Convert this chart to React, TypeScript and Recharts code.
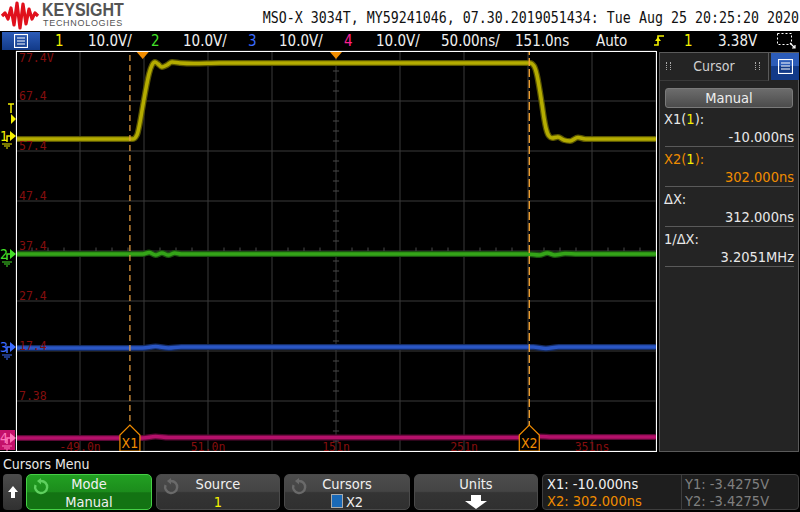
import React from "react";
import {
  CartesianGrid,
  Line,
  LineChart,
  ReferenceDot,
  ReferenceLine,
  XAxis,
  YAxis,
} from "recharts";

const NARROW = "'Liberation Sans Narrow', 'DejaVu Sans Condensed', 'Arial Narrow', Roboto, sans-serif";
const MONO = "'DejaVu Sans Mono', 'Liberation Mono', monospace";

// horizontal: 50 ns/div, 151 ns at screen centre
const TIME_TICKS = [-99, -49, 1, 51, 101, 151, 201, 251, 301, 351, 401];
const TIME_LABELS = ["", "-49.0n", "", "51.0n", "", "151n", "", "251n", "", "351ns", ""];
// vertical: 10 V/div (channel 1 scale)
const VOLT_TICKS = [77.4, 67.4, 57.4, 47.4, 37.4, 27.4, 17.4, 7.4, -2.6];
const VOLT_LABELS = ["77.4V", "67.4", "57.4", "47.4", "37.4", "27.4", "17.4", "7.38", ""];

// channel 1: pulse
const CH1_T = [-99, -7.6, -4.5, -2.1, 0.2, 2.6, 4.9, 7.3, 9.6, 12, 15, 19, 22.9, 29, 40, 60, 100, 200, 300, 302.6, 305.7, 308, 310.4, 312, 313.5, 315, 317.4, 319.8, 324.4, 329, 333.8, 340, 346, 360, 401];
const CH1_V = [59.8, 59.8, 60.6, 63.2, 66.6, 70.0, 72.8, 74.6, 75.2, 74.8, 74.2, 74.6, 75.2, 75.0, 74.9, 75.0, 75.0, 75.0, 75.0, 75.0, 74.4, 72.6, 69.2, 66.6, 64.0, 62.0, 60.4, 60.0, 60.2, 59.6, 59.4, 60.1, 59.8, 59.8, 59.8];
// channel 2
const CH2_T = [-99, 0, 5, 10, 15, 20, 25, 30, 40, 300, 310, 316, 322, 330, 340, 401];
const CH2_V = [36.8, 36.8, 37.1, 36.6, 37.0, 36.6, 37.0, 36.8, 36.8, 36.8, 36.6, 37.0, 36.6, 36.9, 36.8, 36.8];
// channel 3
const CH3_T = [-99, 0, 10, 20, 30, 305, 315, 325, 401];
const CH3_V = [18.0, 18.0, 18.3, 18.0, 18.2, 18.2, 17.9, 18.2, 18.2];
// channel 4
const CH4_T = [-99, 0, 10, 20, 300, 310, 320, 401];
const CH4_V = [0.0, 0.0, 0.3, 0.1, 0.1, 0.3, 0.2, 0.2];

const CH_COLORS = ["#b4ac00", "#34a418", "#2a56c4", "#b4106a"];
const CH_HALO = ["#5a5600", "#1a5410", "#152c64", "#5a0835"];
const MARK_COLORS = ["#f4f000", "#44e028", "#3c6cff", "#ff2090"];
const GROUND_LEVELS = [60.4, 36.8, 18.2, 0.0];
const TRIG_LEVEL = 63.8;
const TRIG_TIME = 0;
const CENTER_TIME = 151;
const X1_TIME = -10;
const X2_TIME = 302;

const toPoints = (t: number[], v: number[]) => t.map((x, i) => ({ t: x, v: v[i] }));
const CHANNELS = [toPoints(CH1_T, CH1_V), toPoints(CH2_T, CH2_V), toPoints(CH3_T, CH3_V), toPoints(CH4_T, CH4_V)];

// graticule minor ticks on the centre axes
const V_MINOR = Array.from({ length: 41 }, (_, k) => 77.4 - k * 2).filter((_, k) => k % 5 !== 0);
const T_MINOR = Array.from({ length: 41 }, (_, k) => -99 + k * 12.5).filter((_, k) => k % 4 !== 0);

const LABEL_RED = "#840e0e";

function TimeTick(props: any) {
  const { x, y, payload } = props;
  const label = TIME_LABELS[TIME_TICKS.indexOf(payload.value)];
  return (
    <text x={x} y={y} textAnchor="middle" fill={LABEL_RED} fontFamily={MONO} fontSize={11.5}>
      {label}
    </text>
  );
}

function VoltTick(props: any) {
  const { x, y, payload } = props;
  const i = VOLT_TICKS.indexOf(payload.value);
  return (
    <text x={x + 3} y={i === 0 ? y + 11 : y - 1} textAnchor="start" fill={LABEL_RED} fontFamily={MONO} fontSize={11.5}>
      {VOLT_LABELS[i]}
    </text>
  );
}

function CursorTag({ viewBox, text }: any) {
  const { x, y, height } = viewBox;
  const b = y + height;
  return (
    <g>
      <polygon
        points={`${x - 10},${b} ${x - 10},${b - 16} ${x},${b - 26} ${x + 10},${b - 16} ${x + 10},${b}`}
        fill="#000"
        stroke="#f08c00"
        strokeWidth={1.2}
      />
      <text x={x} y={b - 3} textAnchor="middle" fill="#f08c00" fontFamily={NARROW} fontSize={14}>
        {text}
      </text>
    </g>
  );
}

function TrigArrow({ cx, cy }: any) {
  return <polygon points={`${cx - 6},${cy + 1} ${cx + 6},${cy + 1} ${cx},${cy + 8}`} fill="#f08c00" />;
}

function TrigLevelMark({ cx, cy }: any) {
  const c = MARK_COLORS[0];
  return (
    <g>
      <path d={`M${cx - 8},${cy - 15} H${cx - 2} M${cx - 5},${cy - 15} V${cy - 6}`} stroke={c} strokeWidth={1.5} fill="none" />
      <polygon points={`${cx - 5},${cy - 5} ${cx},${cy} ${cx - 5},${cy + 5}`} fill={c} />
    </g>
  );
}

function GroundMark({ cx, cy, ch }: any) {
  const c = MARK_COLORS[ch];
  const boxed = ch === 3;
  const g = boxed ? "#ff78bc" : c;
  return (
    <g>
      {boxed && <rect x={cx - 16} y={cy - 8} width={15} height={20} fill="#c4106a" />}
      <text x={cx - 16} y={cy + 5} fill={g} fontFamily={NARROW} fontSize={14}>
        {ch + 1}
      </text>
      <path d={`M${cx - 9},${cy + 6} V${cy} H${cx - 5}`} stroke={g} strokeWidth={1.5} fill="none" />
      <polygon points={`${cx - 6},${cy - 5} ${cx},${cy} ${cx - 6},${cy + 5}`} fill={g} />
      <path
        d={`M${cx - 14},${cy + 8} H${cx - 4} M${cx - 12},${cy + 10} H${cx - 6} M${cx - 10},${cy + 12} H${cx - 8}`}
        stroke={g}
        strokeWidth={1}
      />
    </g>
  );
}

function Scope() {
  return (
    <LineChart width={800} height={512} margin={{ top: 51, right: 144, bottom: 61, left: 16 }}>
      <CartesianGrid stroke="#3a3a3a" />
      <XAxis
        dataKey="t"
        type="number"
        domain={[-99, 401]}
        ticks={TIME_TICKS}
        interval={0}
        allowDataOverflow
        mirror
        height={20}
        tickSize={0}
        tickMargin={0}
        axisLine={false}
        tickLine={false}
        tick={(p: any) => <TimeTick {...p} />}
      />
      <YAxis
        type="number"
        domain={[-2.6, 77.4]}
        ticks={VOLT_TICKS}
        interval={0}
        allowDataOverflow
        mirror
        width={40}
        tickSize={0}
        tickMargin={0}
        axisLine={false}
        tickLine={false}
        tick={(p: any) => <VoltTick {...p} />}
      />
      {V_MINOR.map((v) => (
        <ReferenceLine key={`v${v}`} segment={[{ x: CENTER_TIME - 2.4, y: v }, { x: CENTER_TIME + 2.4, y: v }]} stroke="#4a4a4a" />
      ))}
      {T_MINOR.map((t) => (
        <ReferenceLine key={`t${t}`} segment={[{ x: t, y: 37.1 }, { x: t, y: 38.1 }]} stroke="#4a4a4a" />
      ))}
      {CHANNELS.map((d, i) => (
        <Line
          key={`h${i}`}
          data={d}
          dataKey="v"
          type="monotone"
          stroke={CH_HALO[i]}
          strokeWidth={6}
          dot={false}
          isAnimationActive={false}
        />
      ))}
      {CHANNELS.map((d, i) => (
        <Line
          key={`c${i}`}
          data={d}
          dataKey="v"
          type="monotone"
          stroke={CH_COLORS[i]}
          strokeWidth={3.5}
          dot={false}
          isAnimationActive={false}
        />
      ))}
      <ReferenceLine x={X1_TIME} stroke="#eaa040" strokeDasharray="6 4" strokeWidth={1.2} label={<CursorTag text="X1" />} />
      <ReferenceLine x={X2_TIME} stroke="#f0a030" strokeDasharray="8 3" strokeWidth={1.4} label={<CursorTag text="X2" />} />
      <ReferenceDot x={TRIG_TIME} y={77.4} ifOverflow="visible" shape={<TrigArrow />} />
      <ReferenceDot x={CENTER_TIME} y={77.4} ifOverflow="visible" shape={<TrigArrow />} />
      <ReferenceDot x={-99} y={TRIG_LEVEL} ifOverflow="visible" shape={<TrigLevelMark />} />
      {GROUND_LEVELS.map((v, i) => (
        <ReferenceDot key={`g${i}`} x={-99} y={v} ifOverflow="visible" shape={<GroundMark ch={i} />} />
      ))}
    </LineChart>
  );
}

const abs = (left: number, top: number, extra: React.CSSProperties = {}): React.CSSProperties => ({
  position: "absolute",
  left,
  top,
  ...extra,
});

function Header() {
  return (
    <div style={abs(0, 0, { width: 800, height: 31, background: "#fff" })}>
      <svg width={40} height={31} style={abs(0, 0)}>
        <polyline
          points="2,16 5,13 8,19 11,8 14,25 17,3 20,28 23,4 26,24 29,9 32,19 35,13 38,16"
          fill="none"
          stroke="#e0101c"
          strokeWidth={3.2}
          strokeLinejoin="round"
        />
      </svg>
      <div
        style={abs(42, 0, {
          fontFamily: "'Liberation Sans', Arial, sans-serif",
          fontWeight: 700,
          fontSize: 16,
          color: "#545454",
          lineHeight: "18px",
          transform: "scaleY(1.15)",
          transformOrigin: "top",
        })}
      >
        KEYSIGHT
      </div>
      <div style={abs(43, 18, { fontFamily: "'Liberation Sans', Arial, sans-serif", fontSize: 9, color: "#545454", letterSpacing: 0.7, lineHeight: "11px" })}>
        TECHNOLOGIES
      </div>
      <div
        style={abs(0, 12, {
          width: 799,
          textAlign: "right",
          fontFamily: MONO,
          fontSize: 13.3,
          color: "#111",
          lineHeight: "16px",
          transform: "scaleY(1.2)",
          transformOrigin: "bottom",
          whiteSpace: "pre",
        })}
      >
        MSO-X 3034T, MY59241046, 07.30.2019051434: Tue Aug 25 20:25:20 2020
      </div>
    </div>
  );
}

const STATUS_ITEMS: [number, string, string][] = [
  [55, "1", "#f4f000"],
  [88, "10.0V/", "#f0f0f0"],
  [151, "2", "#44e028"],
  [183, "10.0V/", "#f0f0f0"],
  [248, "3", "#3c6cff"],
  [279, "10.0V/", "#f0f0f0"],
  [344, "4", "#ff2090"],
  [376, "10.0V/", "#f0f0f0"],
  [441, "50.00ns/", "#f0f0f0"],
  [515, "151.0ns", "#f0f0f0"],
  [596, "Auto", "#f0f0f0"],
  [684, "1", "#f4f000"],
  [718, "3.38V", "#f0f0f0"],
];

function MenuIcon({ size = 14 }: { size?: number }) {
  return (
    <svg width={size} height={size}>
      <rect x={0.5} y={0.5} width={size - 1} height={size - 1} fill="none" stroke="#fff" strokeWidth={1.2} />
      <path d={`M3,4 H${size - 3} M3,7 H${size - 3} M3,10 H${size - 3}`} stroke="#fff" strokeWidth={1.2} />
    </svg>
  );
}

function StatusBar() {
  return (
    <div style={abs(0, 31, { width: 800, height: 20, background: "#000" })}>
      <div
        style={abs(2, 1, {
          width: 38,
          height: 18,
          background: "linear-gradient(#2c5cb8, #123a88)",
          display: "flex",
          alignItems: "center",
          justifyContent: "center",
        })}
      >
        <MenuIcon />
      </div>
      {STATUS_ITEMS.map(([x, s, c]) => (
        <div key={x} style={abs(x, 0, { color: c, fontFamily: NARROW, fontSize: 15, lineHeight: "20px" })}>
          {s}
        </div>
      ))}
      <svg width={14} height={18} style={abs(652, 1)}>
        <path d="M2,13 H6 V4 H12" stroke="#f4f000" strokeWidth={1.6} fill="none" />
        <polygon points="3,9 9,9 6,5" fill="#f4f000" />
      </svg>
      <svg width={22} height={20} style={abs(776, 0)}>
        <rect x={1.5} y={2.5} width={14} height={11} fill="none" stroke="#fff" strokeDasharray="2 2" />
        <path d="M14,12 L19,17 M16,17 H19 V14" stroke="#fff" strokeWidth={1.2} fill="none" />
      </svg>
    </div>
  );
}

const PANEL_ROWS: [string, string, string][] = [
  ["X1(1):", "-10.000ns", "#e8e8e8"],
  ["X2(1):", "302.000ns", "#f08c00"],
  ["ΔX:", "312.000ns", "#e8e8e8"],
  ["1/ΔX:", "3.2051MHz", "#e8e8e8"],
];

function CursorPanel() {
  return (
    <div style={abs(659, 52, { width: 140, height: 400, background: "#242424", boxSizing: "border-box", border: "1px solid #5a5a5a" })}>
      <div style={abs(0, 0, { width: 108, height: 27, borderRight: "1px solid #5a5a5a", borderBottom: "1px solid #3a3a3a" })}>
        <div style={abs(6, 9, { width: 3, height: 8, borderLeft: "1px dotted #aaa", borderRight: "1px dotted #aaa" })} />
        <div style={abs(95, 9, { width: 3, height: 8, borderLeft: "1px dotted #aaa", borderRight: "1px dotted #aaa" })} />
        <div style={abs(0, 0, { width: 108, textAlign: "center", color: "#cfcfcf", fontFamily: NARROW, fontSize: 14, lineHeight: "27px" })}>
          Cursor
        </div>
      </div>
      <div
        style={abs(111, 0, {
          width: 28,
          height: 27,
          background: "linear-gradient(#2c5cb8 50%, #123a88 50%)",
          display: "flex",
          alignItems: "center",
          justifyContent: "center",
        })}
      >
        <MenuIcon size={15} />
      </div>
      <div
        style={abs(5, 35, {
          width: 128,
          height: 20,
          borderRadius: 3,
          background: "linear-gradient(#6c6c6c, #4c4c4c)",
          border: "1px solid #7a7a7a",
          boxSizing: "border-box",
          textAlign: "center",
          color: "#eee",
          fontFamily: NARROW,
          fontSize: 14.5,
          lineHeight: "18px",
        })}
      >
        Manual
      </div>
      {PANEL_ROWS.map(([label, value, color], i) => (
        <React.Fragment key={label}>
          <div style={abs(4, 57 + i * 40, { color, fontFamily: NARROW, fontSize: 14.5, lineHeight: "18px" })}>
            {label.includes("(1)") ? (
              <>
                {label.slice(0, 2)}(<span style={{ color: "#f4f000" }}>1</span>):
              </>
            ) : (
              label
            )}
          </div>
          <div style={abs(0, 75 + i * 40, { width: 134, textAlign: "right", color, fontFamily: NARROW, fontSize: 14.5, lineHeight: "18px" })}>
            {value}
          </div>
          <div style={abs(5, 93 + i * 40, { width: 129, height: 1, background: "#5a5a5a" })} />
        </React.Fragment>
      ))}
    </div>
  );
}

function TurnIcon({ color }: { color: string }) {
  return (
    <svg width={18} height={18} style={abs(5, 3)}>
      <path d="M9,3 A6,6 0 1 1 3.5,7" fill="none" stroke={color} strokeWidth={2.4} />
      <polygon points="9,0 9,6.5 5,3" fill={color} />
    </svg>
  );
}

const KEY_TEXT: React.CSSProperties = {
  position: "absolute",
  left: 0,
  width: "100%",
  textAlign: "center",
  fontFamily: NARROW,
  fontSize: 14.5,
  lineHeight: "18px",
  color: "#f0f0f0",
};

function Key({ left, width, green, top, bottom }: { left: number; width: number; green?: boolean; top: React.ReactNode; bottom: React.ReactNode }) {
  return (
    <div
      style={abs(left, 474, {
        width,
        height: 36,
        borderRadius: 5,
        boxSizing: "border-box",
        border: green ? "1px solid #46d046" : "1px solid #4a4a4a",
        background: green
          ? "linear-gradient(#22a022 0%, #1c8c1c 50%, #137313 52%, #137313 100%)"
          : "linear-gradient(#4c4c4c 0%, #444 48%, #343434 52%, #303030 100%)",
      })}
    >
      {green !== undefined && <TurnIcon color={green ? "#5fd05f" : "#6a6a6a"} />}
      <div style={{ ...KEY_TEXT, top: 0 }}>{top}</div>
      <div style={{ ...KEY_TEXT, top: 18 }}>{bottom}</div>
    </div>
  );
}

function Softkeys() {
  return (
    <>
      <div style={abs(3, 456, { color: "#e8e8e8", fontFamily: NARROW, fontSize: 14, lineHeight: "16px" })}>Cursors Menu</div>
      <div
        style={abs(3, 474, {
          width: 19,
          height: 36,
          borderRadius: 4,
          background: "linear-gradient(#4c4c4c, #303030)",
          display: "flex",
          alignItems: "center",
          justifyContent: "center",
        })}
      >
        <svg width={12} height={14}>
          <polygon points="6,1 11,7 8,7 8,13 4,13 4,7 1,7" fill="#fff" />
        </svg>
      </div>
      <Key left={26} width={126} green top="Mode" bottom="Manual" />
      <Key left={156} width={124} green={false} top="Source" bottom={<span style={{ color: "#f4f000" }}>1</span>} />
      <Key
        left={284}
        width={126}
        green={false}
        top="Cursors"
        bottom={
          <span>
            <span style={{ display: "inline-block", width: 10, height: 12, background: "#1a6ab8", border: "1px solid #aaa", verticalAlign: "-1px", marginRight: 3 }} />
            X2
          </span>
        }
      />
      <Key
        left={414}
        width={124}
        top="Units"
        bottom={
          <svg width={24} height={14} style={{ verticalAlign: "-2px" }}>
            <polygon points="7,0 17,0 17,6 23,6 12,14 1,6 7,6" fill="#fff" />
          </svg>
        }
      />
      <div style={abs(542, 474, { width: 257, height: 36, borderRadius: 4, background: "#1e1e1e", border: "1px solid #3e3e3e", boxSizing: "border-box" })}>
        <div style={abs(138, 0, { width: 1, height: 34, background: "#3e3e3e" })} />
        <div style={abs(4, 0, { color: "#f0f0f0", fontFamily: NARROW, fontSize: 14.5, lineHeight: "18px", whiteSpace: "pre" })}>X1: -10.000ns</div>
        <div style={abs(4, 17, { color: "#f08c00", fontFamily: NARROW, fontSize: 14.5, lineHeight: "18px", whiteSpace: "pre" })}>X2: 302.000ns</div>
        <div style={abs(142, 0, { color: "#808080", fontFamily: NARROW, fontSize: 14.5, lineHeight: "18px", whiteSpace: "pre" })}>Y1: -3.4275V</div>
        <div style={abs(142, 17, { color: "#808080", fontFamily: NARROW, fontSize: 14.5, lineHeight: "18px", whiteSpace: "pre" })}>Y2: -3.4275V</div>
      </div>
    </>
  );
}

export default function App() {
  return (
    <div style={abs(0, 0, { width: 800, height: 512, background: "#000", overflow: "hidden" })}>
      <Header />
      <StatusBar />
      <div style={abs(0, 0)}>
        <Scope />
      </div>
      {/* plot frame */}
      <div style={abs(16, 51, { width: 641, height: 401, border: "1px solid #fff", boxSizing: "border-box", pointerEvents: "none" })} />
      <div style={abs(0, 451, { width: 17, height: 1, background: "#fff" })} />
      <CursorPanel />
      <Softkeys />
    </div>
  );
}
